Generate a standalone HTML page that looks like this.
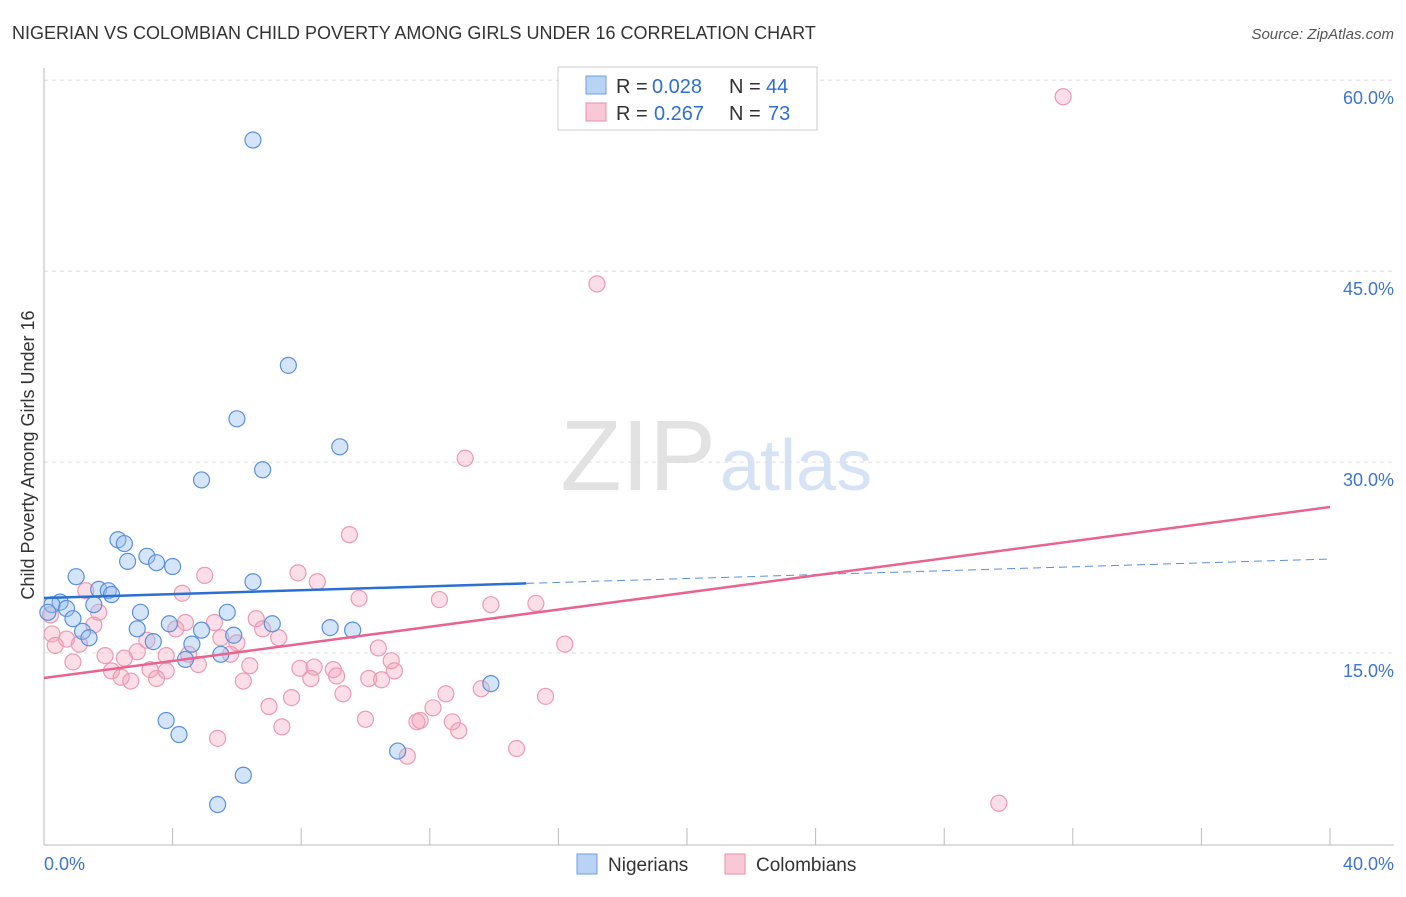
<!DOCTYPE html>
<html><head><meta charset="utf-8"><style>
body{margin:0;background:#fff;font-family:"Liberation Sans",sans-serif;}
svg text{font-family:"Liberation Sans",sans-serif;}
</style></head><body>
<svg id="c" width="1406" height="892" xmlns="http://www.w3.org/2000/svg">
<text x="12" y="39" font-size="18" fill="#333">NIGERIAN VS COLOMBIAN CHILD POVERTY AMONG GIRLS UNDER 16 CORRELATION CHART</text>
<text x="1394" y="39" font-size="15" fill="#555" text-anchor="end" font-style="italic">Source: ZipAtlas.com</text>
<text x="716" y="490" font-size="100" fill="#e2e2e2" text-anchor="end" font-family="Liberation Serif">ZIP</text>
<text x="720" y="490" font-size="72" fill="#d6e3f5">atlas</text>
<g id="grid"></g><g id="axes"></g><g id="pts"></g><g id="lines"></g>
<text transform="translate(34,455) rotate(-90)" font-size="18" fill="#333" text-anchor="middle">Child Poverty Among Girls Under 16</text>
<g>
<rect x="558" y="67" width="259" height="63" fill="#fff" stroke="#ccc"/>
<rect x="586" y="76" width="20" height="18" fill="#b9d3f5" stroke="#6d9ee0"/>
<rect x="586" y="103" width="20" height="18" fill="#f9c8d6" stroke="#ea8eaa"/>
<text x="616" y="93" font-size="20" fill="#333">R =</text>
<text x="652" y="93" font-size="20" fill="#2d6fd2">0.028</text>
<text x="729" y="93" font-size="20" fill="#333">N =</text>
<text x="766" y="93" font-size="20" fill="#2d6fd2">44</text>
<text x="616" y="120" font-size="20" fill="#333">R =</text>
<text x="654" y="120" font-size="20" fill="#2d6fd2">0.267</text>
<text x="729" y="120" font-size="20" fill="#333">N =</text>
<text x="768" y="120" font-size="20" fill="#2d6fd2">73</text>
</g>
<g>
<rect x="577" y="854" width="20" height="20" fill="#b9d3f5" stroke="#6d9ee0"/>
<text x="608" y="871" font-size="19" fill="#333">Nigerians</text>
<rect x="725" y="854" width="20" height="20" fill="#f9c8d6" stroke="#ea8eaa"/>
<text x="756" y="871" font-size="19" fill="#333">Colombians</text>
</g>
</svg>
<script>
const yTicks=[15,30,45,60];
const nigX=[6.5,7.6,6.0,9.2,6.8,4.9,2.3,2.5,3.2,3.5,4.0,2.6,1.0,6.5,1.7,2.0,2.1,0.5,0.25,0.7,1.55,3.0,5.7,0.9,3.9,7.1,8.9,9.6,2.9,4.9,1.2,5.9,1.4,3.4,4.6,5.5,4.4,13.9,3.8,4.2,11.0,6.2,5.4,0.12];
const nigY=[55.3,37.6,33.4,31.2,29.4,28.6,23.9,23.6,22.6,22.1,21.8,22.2,21.0,20.6,20.0,19.9,19.6,19.0,18.8,18.5,18.8,18.2,18.2,17.7,17.3,17.3,17.0,16.8,16.9,16.8,16.7,16.4,16.2,15.9,15.7,14.9,14.5,12.6,9.7,8.6,7.3,5.4,3.1,18.2];
const colX=[31.7,17.2,13.1,9.5,5.0,7.9,8.5,4.3,9.8,12.3,13.9,15.3,1.3,1.7,6.6,5.3,4.4,6.8,1.55,4.1,7.3,5.5,6.0,3.2,0.7,1.1,16.2,10.4,1.9,2.9,3.8,2.5,4.5,5.8,4.8,6.4,10.8,7.96,8.4,9.0,10.9,2.1,3.3,3.8,9.1,8.3,2.4,3.5,2.7,10.1,10.5,6.2,9.3,7.7,12.5,13.6,15.6,7.0,12.1,10.0,11.7,11.6,12.7,7.4,12.9,5.4,14.7,11.3,29.7,0.2,0.25,0.35,0.9];
const colY=[58.7,44.0,30.3,24.3,21.1,21.3,20.6,19.7,19.3,19.2,18.8,18.9,19.9,18.2,17.7,17.4,17.4,16.9,17.2,16.9,16.2,16.2,15.8,16.0,16.1,15.7,15.7,15.4,14.8,15.1,14.8,14.6,14.9,14.9,14.1,14.0,14.4,13.8,13.9,13.7,13.6,13.6,13.7,13.6,13.2,13.0,13.1,13.0,12.8,13.0,12.9,12.8,11.8,11.5,11.8,12.2,11.6,10.8,10.7,9.8,9.7,9.6,9.6,9.2,8.9,8.3,7.5,6.9,3.2,18.0,16.5,15.6,14.3];
const nigTrend=[19.32,22.39], colTrend=[13.04,26.47];
const X=v=>44+v*32.15, Y=v=>844-v*12.73;
const NS='http://www.w3.org/2000/svg';
function mk(p,t,a){const e=document.createElementNS(NS,t);for(const k in a)e.setAttribute(k,a[k]);p.appendChild(e);return e;}
const grid=document.getElementById('grid'),axes=document.getElementById('axes'),pts=document.getElementById('pts'),lines=document.getElementById('lines');
yTicks.forEach(t=>{const l=mk(grid,'line',{x1:44,x2:1394,y1:Y(t),y2:Y(t),stroke:'#ddd','stroke-dasharray':'4,4'});


const tx=mk(grid,'text',{x:1394,y:Y(t)+24,'font-size':18,fill:'#3d74d0','text-anchor':'end'});tx.textContent=t.toFixed(1)+'%';

});
const ax=mk(axes,'line',{x1:44,x2:1394,y1:845,y2:845,stroke:'#bbb'});


const ay=mk(axes,'line',{x1:44,x2:44,y1:68,y2:845,stroke:'#bbb'});


for(let i=1;i<=10;i++){const t=mk(axes,'line',{x1:X(i*4),x2:X(i*4),y1:828,y2:845,stroke:'#bbb'});

}
[['0.0%',44,'start'],['40.0%',1394,'end']].forEach(a=>{const t=mk(axes,'text',{x:a[1],y:870,'font-size':18,fill:'#3d74d0','text-anchor':a[2]});t.textContent=a[0];

});
colX.forEach((x,i)=>{const c=mk(pts,'circle',{cx:X(x),cy:Y(colY[i]),r:8,fill:'rgba(244,160,185,0.35)',stroke:'#ec9ab3','stroke-width':1.2});

});
nigX.forEach((x,i)=>{const c=mk(pts,'circle',{cx:X(x),cy:Y(nigY[i]),r:8,fill:'rgba(150,190,240,0.4)',stroke:'#5a90dc','stroke-width':1.2});

});
const nt=v=>nigTrend[0]+(nigTrend[1]-nigTrend[0])*v/40, ct=v=>colTrend[0]+(colTrend[1]-colTrend[0])*v/40;
let l=mk(lines,'line',{x1:X(0),y1:Y(nt(0)),x2:X(15),y2:Y(nt(15)),stroke:'#2a6fd4','stroke-width':2.5});


l=mk(lines,'line',{x1:X(15),y1:Y(nt(15)),x2:X(40),y2:Y(nt(40)),stroke:'#5a8fdc','stroke-width':1,'stroke-dasharray':'8,5'});


l=mk(lines,'line',{x1:X(0),y1:Y(ct(0)),x2:X(40),y2:Y(ct(40)),stroke:'#e8638f','stroke-width':2.5});


</script>
</body></html>
